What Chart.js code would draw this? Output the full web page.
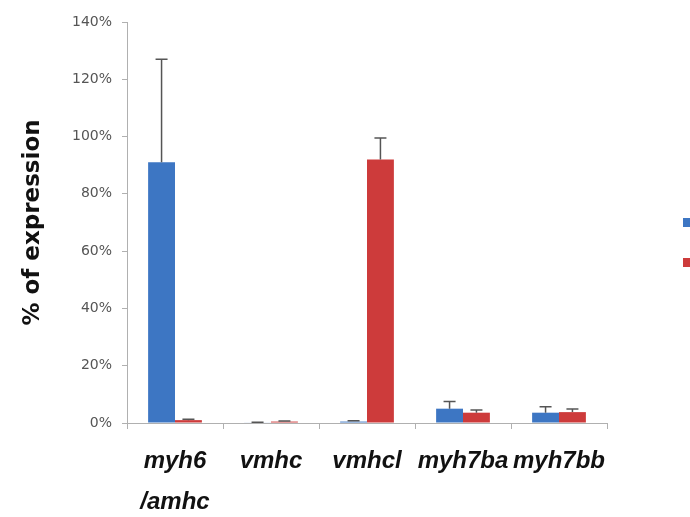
<!DOCTYPE html>
<html>
<head>
<meta charset="utf-8">
<script src="https://cdn.jsdelivr.net/npm/chart.js@4.4.1/dist/chart.umd.min.js"></script>
<style>
  html, body { margin: 0; padding: 0; background: #fff; overflow: hidden; }
  #wrap { width: 690px; height: 517px; }
</style>
</head>
<body>
<div id="wrap"><canvas id="expr"></canvas></div>
<script>
const genes = [['myh6', '/amhc'], 'vmhc', 'vmhcl', 'myh7ba', 'myh7bb'];
const seriesNames = ['Atrium', 'Ventricle'];
const blueValues = [91, 0.2, 0.5, 5, 3.6];
const blueErrors = [36, 0.1, 0.3, 2.5, 2.1];
const redValues = [1, 0.5, 92, 3.6, 3.8];
const redErrors = [0.3, 0.2, 7.5, 0.9, 1.1];
const yTicks = [0, 20, 40, 60, 80, 100, 120, 140];

const BLUE = '#3d76c3';
const RED = '#cd3b3b';

// upward error bars with a cap, drawn through the scales
const errorBars = {
    id: 'errorBars',
    afterDatasetsDraw(chart) {
        const ctx = chart.ctx;
        const y = chart.scales.y;
        ctx.save();
        ctx.strokeStyle = '#555';
        ctx.lineWidth = 1.5;
        chart.data.datasets.forEach((ds, i) => {
            const meta = chart.getDatasetMeta(i);
            meta.data.forEach((bar, j) => {
                const top = y.getPixelForValue(ds.data[j] + ds.errors[j]);
                const base = y.getPixelForValue(ds.data[j]);
                ctx.beginPath();
                ctx.moveTo(bar.x, base);
                ctx.lineTo(bar.x, top);
                ctx.moveTo(bar.x - 6, top);
                ctx.lineTo(bar.x + 6, top);
                ctx.stroke();
            });
        });
        ctx.restore();
    }
};

// legend sits mostly past the right edge, only the colour keys show
const edgeLegend = {
    id: 'edgeLegend',
    afterDraw(chart) {
        const ctx = chart.ctx;
        ctx.save();
        chart.data.datasets.forEach((ds, i) => {
            const top = 218 + i * 40;
            ctx.fillStyle = ds.backgroundColor;
            ctx.fillRect(683, top, 10, 9);
            ctx.fillStyle = '#333';
            ctx.font = '13px "DejaVu Sans"';
            ctx.textBaseline = 'middle';
            ctx.fillText(ds.label, 698, top + 4);
        });
        ctx.restore();
    }
};

new Chart(document.getElementById('expr'), {
    type: 'bar',
    data: {
        labels: genes,
        datasets: [
            { label: seriesNames[0], data: blueValues, errors: blueErrors, backgroundColor: BLUE },
            { label: seriesNames[1], data: redValues, errors: redErrors, backgroundColor: RED },
        ],
    },
    options: {
        responsive: true,
        maintainAspectRatio: false,
        animation: false,
        layout: { padding: { top: 22, right: 83, left: 0, bottom: 0 } },
        plugins: {
            legend: { display: false },
            tooltip: { enabled: false },
        },
        datasets: {
            bar: { categoryPercentage: 0.56, barPercentage: 1.0 },
        },
        scales: {
            x: {
                grid: { display: true, drawOnChartArea: false, offset: true, tickLength: 6, color: '#b0b0b0' },
                border: { color: '#b0b0b0' },
                ticks: {
                    color: '#111',
                    font: { family: 'Liberation Sans', size: 24, weight: 'bold', style: 'italic', lineHeight: 1.7 },
                    padding: 12,
                    maxRotation: 0,
                    autoSkip: false,
                },
                afterFit: (s) => { s.height = 94; },
            },
            y: {
                min: 0,
                max: 140,
                afterBuildTicks: (s) => { s.ticks = yTicks.map(v => ({ value: v })); },
                grid: { display: true, drawOnChartArea: false, tickLength: 5, color: '#b0b0b0' },
                border: { color: '#b0b0b0' },
                ticks: {
                    color: '#555',
                    font: { family: 'DejaVu Sans', size: 14 },
                    padding: 10,
                    callback: (v) => v + '%',
                },
                title: {
                    display: true,
                    text: '% of expression',
                    color: '#111',
                    font: { family: 'DejaVu Sans', size: 23, weight: 'bold' },
                    padding: { top: 19, bottom: 0 },
                },
                afterFit: (s) => { s.width = 127; },
            },
        },
    },
    plugins: [errorBars, edgeLegend],
});
</script>
</body>
</html>
